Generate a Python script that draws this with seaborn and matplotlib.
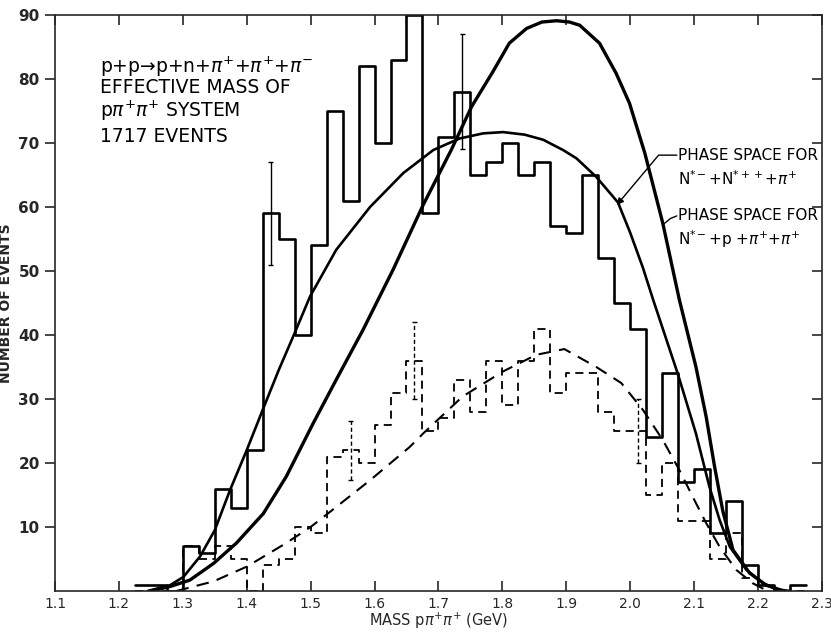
import numpy as np
import pandas as pd
import matplotlib
matplotlib.use('Agg')
import matplotlib.pyplot as plt
import seaborn as sns

sns.set_style('ticks')
plt.rcParams['font.family'] = ['DejaVu Sans']
plt.rcParams['mathtext.fontset'] = 'dejavusans'

# ---- data ----
# histogram bins, 25 MeV wide, left edge 1.225 GeV
bin_edges = [round(1.225 + 0.025 * i, 3) for i in range(43)]
bin_mid = [round(e + 0.0125, 4) for e in bin_edges[:-1]]

# all 1717 events (solid histogram)
all_events = [1, 1, 0, 7, 6, 16, 13, 22, 59, 55, 40, 54, 75, 61, 82, 70, 83, 90, 59, 71, 78,
              65, 67, 70, 65, 67, 57, 56, 65, 52, 45, 41, 24, 34, 17, 19, 9, 14, 4, 1, 0, 1]
# selected subsample (dashed histogram)
sub_events = [0, 0, 0, 7, 5, 7, 5, 0, 4, 5, 10, 9, 21, 22, 20, 26, 31, 36, 25, 27, 33,
              28, 36, 29, 36, 41, 31, 34, 34, 28, 25, 25, 15, 20, 11, 11, 5, 9, 2, 1, 0, 0]

# error bars (x, low, high)
err_solid_x = [1.4375, 1.7375]
err_solid_lo = [51, 69]
err_solid_hi = [67, 87]
err_dash_x = [1.5625, 1.6625, 2.0125]
err_dash_lo = [17.3, 30, 20]
err_dash_hi = [26.5, 42, 30]

# phase space N*- + p + pi+ + pi+  (tall curve)
ps_a_m = [1.25, 1.28, 1.311, 1.348, 1.384, 1.426, 1.462, 1.504, 1.54, 1.582, 1.629, 1.676,
          1.72, 1.752, 1.785, 1.811, 1.838, 1.862, 1.885, 1.905, 1.921, 1.952, 1.978, 1.999,
          2.023, 2.051, 2.077, 2.103, 2.119, 2.132, 2.145, 2.161, 2.187, 2.213, 2.24]
ps_a_n = [0, 0.7, 1.7, 4.3, 7.5, 12.1, 17.9, 26.2, 33.0, 40.8, 50.2, 60.3,
          68.9, 75.7, 81.1, 85.6, 87.9, 88.9, 89.1, 88.9, 88.4, 85.6, 80.9, 76.2,
          68.4, 57.5, 45.5, 35.0, 27.2, 19.5, 12.5, 6.4, 2.8, 0.9, 0]

# phase space N*- + N*++ + pi+  (broad curve)
ps_b_m = [1.245, 1.28, 1.301, 1.327, 1.35, 1.374, 1.4, 1.425, 1.45, 1.475, 1.499, 1.54,
          1.593, 1.645, 1.692, 1.733, 1.77, 1.801, 1.835, 1.864, 1.895, 1.916, 1.947, 1.981,
          2.0, 2.02, 2.036, 2.075, 2.103, 2.124, 2.14, 2.156, 2.182, 2.208, 2.234, 2.25]
ps_b_n = [0, 0.9, 2.2, 5.4, 9.5, 15.8, 22.0, 28.3, 34.5, 40.3, 46.0, 53.3,
          60.0, 65.3, 68.9, 70.7, 71.5, 71.7, 71.3, 70.5, 68.9, 67.6, 64.7, 60.7,
          56.0, 50.5, 45.5, 33.8, 24.6, 16.3, 11.1, 6.9, 3.3, 1.2, 0.2, 0]

# dashed phase-space curve for the subsample
ps_c_m = [1.29, 1.348, 1.4, 1.462, 1.5, 1.527, 1.593, 1.655, 1.676, 1.738, 1.801, 1.853,
          1.897, 1.947, 1.986, 2.02, 2.051, 2.077, 2.098, 2.119, 2.14, 2.166, 2.192, 2.215]
ps_c_n = [0, 1.5, 3.8, 7.5, 10.0, 12.1, 17.3, 22.5, 24.6, 30.4, 34.3, 36.9,
          37.8, 35.0, 32.5, 28.3, 23.6, 18.9, 14.7, 10.6, 6.9, 3.3, 1.2, 0]

x_ticks = [1.1, 1.2, 1.3, 1.4, 1.5, 1.6, 1.7, 1.8, 1.9, 2.0, 2.1, 2.2, 2.3]
x_ticklabels = ['1.1', '1.2', '1.3', '1.4', '1.5', '1.6', '1.7', '1.8', '1.9', '2.0', '2.1', '2.2', '2.3']
y_ticks = [10, 20, 30, 40, 50, 60, 70, 80, 90]

hist_df = pd.DataFrame({'mass': bin_mid, 'all': all_events, 'sub': sub_events})

# ---- figure ----
fig = plt.figure(figsize=(8.31, 6.32), dpi=100)
ax = fig.add_axes([0.0662, 0.0649, 0.9228, 0.9114])

dash = (0, (4.5, 3))

sns.histplot(data=hist_df, x='mass', weights='all', bins=bin_edges, element='step', fill=False,
             color='black', linewidth=1.9, ax=ax)
sns.histplot(data=hist_df, x='mass', weights='sub', bins=bin_edges, element='step', fill=False,
             color='black', linewidth=1.3, linestyle=dash, ax=ax)

sns.lineplot(x=ps_a_m, y=ps_a_n, estimator=None, sort=False, color='black', linewidth=2.4, ax=ax)
sns.lineplot(x=ps_b_m, y=ps_b_n, estimator=None, sort=False, color='black', linewidth=1.9, ax=ax)
sns.lineplot(x=ps_c_m, y=ps_c_n, estimator=None, sort=False, color='black', linewidth=1.5,
             linestyle=(0, (6, 4)), ax=ax)

# error bars
for x, lo, hi in zip(err_solid_x, err_solid_lo, err_solid_hi):
    ax.vlines(x, lo, hi, color='black', linewidth=1.0)
    ax.hlines([lo, hi], x - 0.004, x + 0.004, color='black', linewidth=1.0)
for x, lo, hi in zip(err_dash_x, err_dash_lo, err_dash_hi):
    ax.vlines(x, lo, hi, color='black', linewidth=1.0, linestyle=(0, (3, 2)))
    ax.hlines([lo, hi], x - 0.004, x + 0.004, color='black', linewidth=1.0)

# annotations
txt_kw = dict(fontsize=13.5, color='black', va='center', ha='left')
ax.text(1.171, 81.9, 'p+p→p+n+$\\pi^{+}$+$\\pi^{+}$+$\\pi^{-}$', **txt_kw)
ax.text(1.171, 78.6, 'EFFECTIVE MASS OF', **txt_kw)
ax.text(1.171, 75.0, 'p$\\pi^{+}\\pi^{+}$ SYSTEM', **txt_kw)
ax.text(1.171, 71.0, '1717 EVENTS', **txt_kw)

lab_kw = dict(fontsize=11, color='black', va='center', ha='left')
ax.text(2.075, 68.1, 'PHASE SPACE FOR', **lab_kw)
ax.text(2.075, 64.5, 'N$^{*-}$+N$^{*++}$+$\\pi^{+}$', **lab_kw)
ax.text(2.075, 58.6, 'PHASE SPACE FOR', **lab_kw)
ax.text(2.075, 55.0, 'N$^{*-}$+p +$\\pi^{+}$+$\\pi^{+}$', **lab_kw)
ax.annotate('', xy=(1.979, 60.3), xytext=(2.073, 68.1),
            arrowprops=dict(arrowstyle='-|>', color='black', lw=1.0, mutation_scale=10,
                            connectionstyle='angle,angleA=0,angleB=50,rad=0', shrinkA=0, shrinkB=0))
ax.plot([2.073, 2.063, 2.051], [58.6, 58.2, 57.2], color='black', linewidth=1.0)

# axes
ax.set_xlim(1.1, 2.3)
ax.set_ylim(0, 90)
ax.set_xticks(x_ticks)
ax.set_xticklabels(x_ticklabels)
ax.set_yticks(y_ticks)
ax.tick_params(axis='x', direction='in', length=7, width=1.2, top=True, labelsize=10, pad=4)
ax.tick_params(axis='y', direction='in', length=7, width=1.2, right=True, left=True,
               labelsize=11, pad=11)
# outward left ticks
for t in ax.yaxis.get_major_ticks():
    t.tick1line.set_marker(0)
    t.tick1line.set_markersize(7)
    t.tick1line.set_markeredgewidth(1.2)
for lbl in ax.get_yticklabels():
    lbl.set_fontweight('bold')
for s in ax.spines.values():
    s.set_linewidth(1.2)

ax.set_xlabel('MASS p$\\pi^{+}\\pi^{+}$ (GeV)', fontsize=10.5, labelpad=0)
ax.set_ylabel('NUMBER OF EVENTS', fontsize=10, fontweight='bold', labelpad=4)

fig.savefig('out.png', dpi=100)
